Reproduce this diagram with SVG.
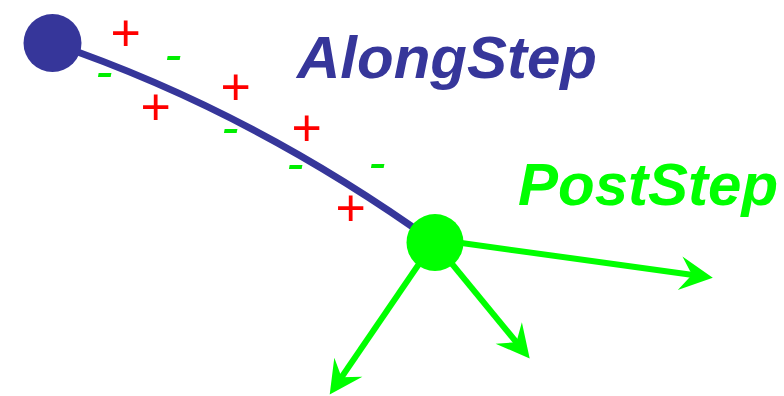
<svg xmlns="http://www.w3.org/2000/svg" width="784" height="396" viewBox="0 0 784 396">
<style>
.lbl{font-family:"Liberation Sans",Arial,sans-serif;font-weight:bold;font-style:italic;font-size:60px}
.pm{font-family:"Liberation Sans",Arial,sans-serif;font-style:italic;font-size:52px;text-anchor:middle}
.plus{fill:#ff0000}
.minus{fill:#00ee00}
.arr{stroke:#00ff00;stroke-width:6;fill:none;marker-end:url(#ah)}
</style>
<defs>
<marker id="ah" markerUnits="userSpaceOnUse" viewBox="-14 -18 38 36" refX="0" refY="0" markerWidth="38" markerHeight="36" orient="auto" overflow="visible">
<path d="M20,0 L-13,-17 L-1,0 L-13,17 Z" fill="#00ff00"/>
</marker>
</defs>
<g id="connectors">
<path d="M52,43 Q250,110 434,242" stroke="#36369a" stroke-width="7" fill="none"/>
<line class="arr" x1="440" y1="240" x2="693" y2="275"/>
<line class="arr" x1="434" y1="242" x2="517" y2="343"/>
<line class="arr" x1="434" y1="242" x2="341" y2="378"/>
</g>
<g id="along-node">
<circle cx="52.5" cy="43" r="29" fill="#36369a"/>
</g>
<g id="post-node">
<circle cx="435" cy="242.5" r="28.5" fill="#00ff00"/>
</g>
<g id="along-label"><text class="lbl" x="297" y="78" fill="#36369a">AlongStep</text></g>
<g id="post-label"><text class="lbl" x="518" y="205" fill="#00ff00">PostStep</text></g>
<g id="charges">
<text class="pm plus" x="125" y="51">+</text>
<text class="pm plus" x="155" y="125">+</text>
<text class="pm plus" x="235" y="105">+</text>
<text class="pm plus" x="306" y="146">+</text>
<text class="pm plus" x="350" y="226">+</text>
<text class="pm minus" x="173" y="72">-</text>
<text class="pm minus" x="104" y="89">-</text>
<text class="pm minus" x="230" y="145">-</text>
<text class="pm minus" x="295" y="181">-</text>
<text class="pm minus" x="377" y="180">-</text>
</g>
</svg>
